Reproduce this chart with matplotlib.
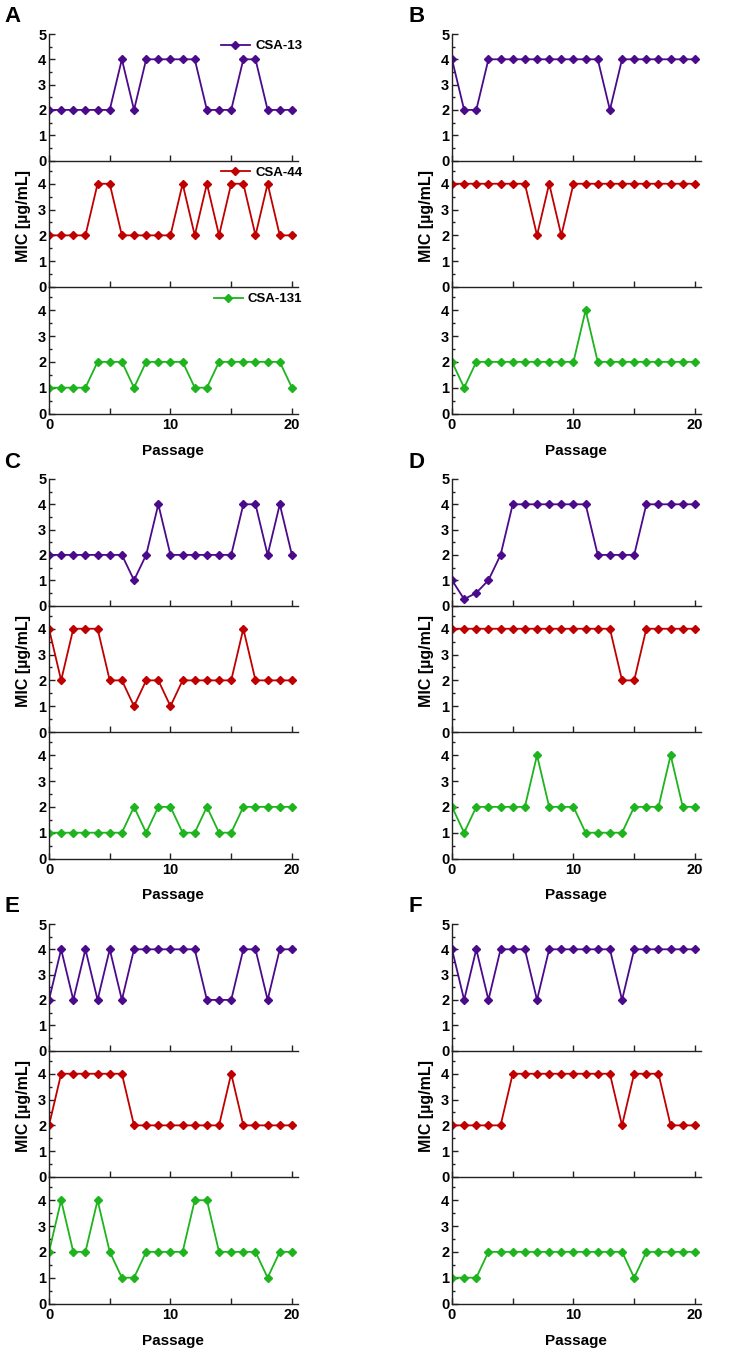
from matplotlib import pyplot as plt
from matplotlib.ticker import MultipleLocator, FixedLocator

plt.rcParams['font.family'] = ['Liberation Sans', 'DejaVu Sans']
plt.rcParams['font.weight'] = 'bold'

passage = list(range(21))

# MIC values per panel, one list per compound
csa13_A = [2, 2, 2, 2, 2, 2, 4, 2, 4, 4, 4, 4, 4, 2, 2, 2, 4, 4, 2, 2, 2]
csa44_A = [2, 2, 2, 2, 4, 4, 2, 2, 2, 2, 2, 4, 2, 4, 2, 4, 4, 2, 4, 2, 2]
csa131_A = [1, 1, 1, 1, 2, 2, 2, 1, 2, 2, 2, 2, 1, 1, 2, 2, 2, 2, 2, 2, 1]

csa13_B = [4, 2, 2, 4, 4, 4, 4, 4, 4, 4, 4, 4, 4, 2, 4, 4, 4, 4, 4, 4, 4]
csa44_B = [4, 4, 4, 4, 4, 4, 4, 2, 4, 2, 4, 4, 4, 4, 4, 4, 4, 4, 4, 4, 4]
csa131_B = [2, 1, 2, 2, 2, 2, 2, 2, 2, 2, 2, 4, 2, 2, 2, 2, 2, 2, 2, 2, 2]

csa13_C = [2, 2, 2, 2, 2, 2, 2, 1, 2, 4, 2, 2, 2, 2, 2, 2, 4, 4, 2, 4, 2]
csa44_C = [4, 2, 4, 4, 4, 2, 2, 1, 2, 2, 1, 2, 2, 2, 2, 2, 4, 2, 2, 2, 2]
csa131_C = [1, 1, 1, 1, 1, 1, 1, 2, 1, 2, 2, 1, 1, 2, 1, 1, 2, 2, 2, 2, 2]

csa13_D = [1, 0.25, 0.5, 1, 2, 4, 4, 4, 4, 4, 4, 4, 2, 2, 2, 2, 4, 4, 4, 4, 4]
csa44_D = [4, 4, 4, 4, 4, 4, 4, 4, 4, 4, 4, 4, 4, 4, 2, 2, 4, 4, 4, 4, 4]
csa131_D = [2, 1, 2, 2, 2, 2, 2, 4, 2, 2, 2, 1, 1, 1, 1, 2, 2, 2, 4, 2, 2]

csa13_E = [2, 4, 2, 4, 2, 4, 2, 4, 4, 4, 4, 4, 4, 2, 2, 2, 4, 4, 2, 4, 4]
csa44_E = [2, 4, 4, 4, 4, 4, 4, 2, 2, 2, 2, 2, 2, 2, 2, 4, 2, 2, 2, 2, 2]
csa131_E = [2, 4, 2, 2, 4, 2, 1, 1, 2, 2, 2, 2, 4, 4, 2, 2, 2, 2, 1, 2, 2]

csa13_F = [4, 2, 4, 2, 4, 4, 4, 2, 4, 4, 4, 4, 4, 4, 2, 4, 4, 4, 4, 4, 4]
csa44_F = [2, 2, 2, 2, 2, 4, 4, 4, 4, 4, 4, 4, 4, 4, 2, 4, 4, 4, 2, 2, 2]
csa131_F = [1, 1, 1, 2, 2, 2, 2, 2, 2, 2, 2, 2, 2, 2, 2, 1, 2, 2, 2, 2, 2]

panels = ['A', 'B', 'C', 'D', 'E', 'F']
series = {
    'A': [csa13_A, csa44_A, csa131_A],
    'B': [csa13_B, csa44_B, csa131_B],
    'C': [csa13_C, csa44_C, csa131_C],
    'D': [csa13_D, csa44_D, csa131_D],
    'E': [csa13_E, csa44_E, csa131_E],
    'F': [csa13_F, csa44_F, csa131_F],
}
names = ['CSA-13', 'CSA-44', 'CSA-131']
colors = ['#4B0A8C', '#C00000', '#1DB41D']

W, H = 734, 1353
fig = plt.figure(figsize=(W / 100, H / 100), dpi=100)


def px_axes(left, top, width, height):
    return fig.add_axes([left / W, 1 - (top + height) / H, width / W, height / H])


col_left = [49, 452]
row_top = [34, 479, 924]
ax_w = 249
ax_h = 126.5
spine_c = '#222222'

for k, p in enumerate(panels):
    col = k % 2
    row = k // 2
    left = col_left[col]
    top = row_top[row]
    for j in range(3):
        ax = px_axes(left, top + j * ax_h, ax_w, ax_h)
        ax.patch.set_visible(False)
        ax.plot(passage, series[p][j], color=colors[j], marker='D', markersize=4.5,
                linewidth=1.3, label=names[j])
        ax.set_xlim(0, 20.5)
        if j == 0:
            ax.set_ylim(0, 5)
        else:
            ax.set_ylim(0, 4.9)
        ax.yaxis.set_major_locator(MultipleLocator(1))
        ax.yaxis.set_minor_locator(MultipleLocator(0.5))
        ax.xaxis.set_major_locator(FixedLocator([0, 10, 20]))
        ax.xaxis.set_minor_locator(FixedLocator([5, 15]))
        for s in ['top', 'right']:
            ax.spines[s].set_visible(False)
        for s in ['left', 'bottom']:
            ax.spines[s].set_color(spine_c)
            ax.spines[s].set_linewidth(1.0)
            ax.spines[s].set_zorder(5)
        ax.tick_params(axis='both', which='both', direction='in', color=spine_c,
                       width=1.0, labelsize=10.5)
        ax.tick_params(axis='x', which='both', length=4)
        ax.tick_params(axis='y', which='major', length=4, pad=2)
        ax.tick_params(axis='y', which='minor', length=2.2)
        ax.tick_params(axis='x', which='major', pad=3)
        for lab in ax.get_xticklabels() + ax.get_yticklabels():
            lab.set_fontweight('bold')
        if j < 2:
            ax.tick_params(axis='x', labelbottom=False)
        if p == 'A':
            ax.legend(loc='upper right', bbox_to_anchor=(1.06, 1.035), frameon=False,
                      prop={'size': 9.5, 'weight': 'bold'}, handlelength=2.2,
                      handletextpad=0.4, borderpad=0.3)
    # panel letter
    fig.text((left - 45 + col * 2) / W, 1 - (top - 17) / H, p, fontsize=16,
             fontweight='bold', ha='left', va='center')
    # shared labels
    fig.text((left + 124) / W, 1 - (top + 3 * ax_h + 37) / H, 'Passage',
             fontsize=11, fontweight='bold', ha='center', va='center')
    fig.text((left - 25) / W, 1 - (top + 1.5 * ax_h - 8) / H, 'MIC [µg/mL]',
             fontsize=11.5, fontweight='bold', rotation=90, ha='center', va='center')

fig.savefig('out.png', dpi=100)
